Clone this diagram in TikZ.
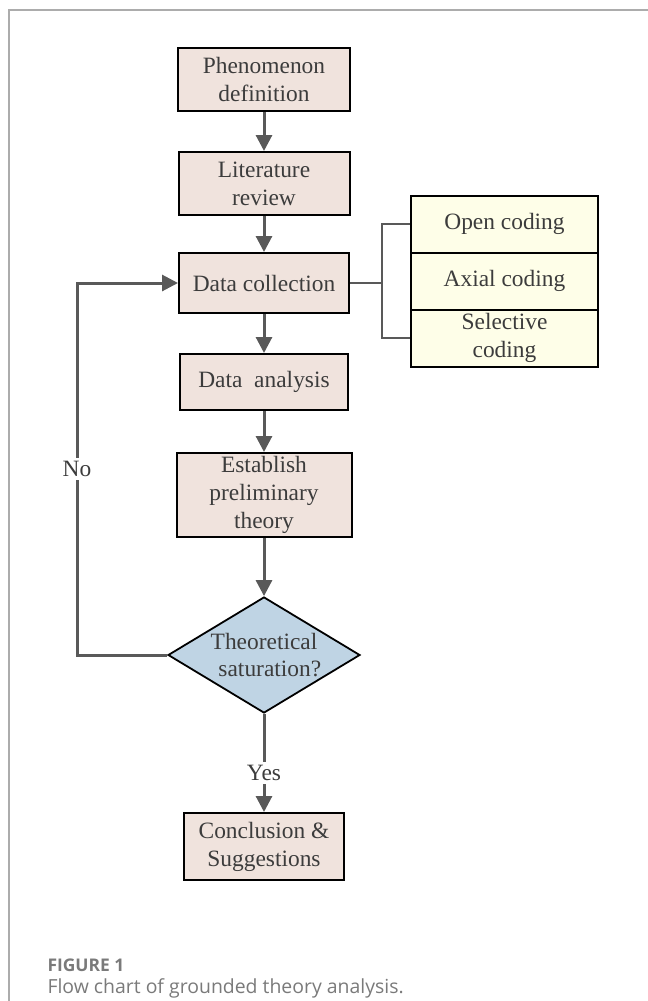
\documentclass[tikz,border=0pt]{standalone}
\usepackage{fontspec}
\setmainfont{Liberation Serif}
\newfontfamily\capfont{Open Sans}
\usetikzlibrary{shapes.geometric,arrows.meta}
\definecolor{boxfill}{HTML}{F0E3DD}
\definecolor{codefill}{HTML}{FEFEE8}
\definecolor{decfill}{HTML}{BFD4E4}
\definecolor{arrowc}{HTML}{595959}
\definecolor{txt}{HTML}{3C3C3C}
\definecolor{capgray}{HTML}{7A7A7A}
\begin{document}
\begin{tikzpicture}[x=1bp,y=-1bp,
 every node/.style={font=\fontsize{23.5}{28}\selectfont, text=txt},
 procbox/.style={draw=black, line width=2bp, fill=boxfill, align=center, inner sep=0pt},
 codebox/.style={draw=black, line width=2bp, fill=codefill, align=center, inner sep=0pt, minimum width=187bp, minimum height=57bp},
 flow/.style={draw=arrowc, line width=3bp, -{Triangle[length=16bp,width=16bp]}},
 link/.style={draw=arrowc, line width=2bp},
]
\useasboundingbox (0,0) rectangle (648,1001);
\draw[gray!65, line width=1.5bp] (9,1001) -- (9,10) -- (648,10);

\node[procbox, minimum width=172bp, minimum height=63bp] (phen) at (264,79.5) {Phenomenon\\definition};
\node[procbox, minimum width=171bp, minimum height=63bp] (lit) at (264,183.5) {Literature\\review};
\node[procbox, minimum width=170bp, minimum height=60bp] (coll) at (264,283) {Data collection};
\node[procbox, minimum width=168bp, minimum height=56bp] (anal) at (264,382) {Data\ \ analysis};
\node[procbox, minimum width=175bp, minimum height=84bp] (est) at (264,495) {Establish\\preliminary\\theory};
\node[diamond, draw=black, line width=1.8bp, fill=decfill, minimum width=192bp, minimum height=116bp, inner sep=0pt, aspect=1.655] (dec) at (264,655) {};
\node[align=center] (dectext) at (dec.center) {Theoretical\\\ \ saturation?};
\node[procbox, minimum width=160bp, minimum height=67bp] (conc) at (264,846.5) {Conclusion \&\\Suggestions};

\node[codebox] (open) at (504.5,224) {Open coding};
\node[codebox] (axial) at (504.5,281) {Axial coding};
\node[codebox] (sel) at (504.5,338) {Selective\\coding};

\draw[flow] (phen) -- (lit);
\draw[flow] (lit) -- (coll);
\draw[flow] (coll) -- (anal);
\draw[flow] (anal) -- (est);
\draw[flow] (est) -- (dec);
\draw[flow] (dec) -- node[pos=0.6, fill=white, inner sep=3bp] (yes) {Yes} (conc);

\coordinate (lb) at (77,655);
\coordinate (lt) at (77,283);
\draw[flow] (dec.west) -- (lb) -- node[midway, fill=white, inner sep=3bp] (no) {No} (lt) -- (coll.west);

\coordinate (bj) at (382,283);
\draw[link] (coll.east) -- (bj);
\draw[link] (open.west) -| (bj) |- (sel.west);

\node[anchor=base west, font=\capfont\bfseries\fontsize{17.5}{19}\selectfont, text=capgray] (figlab) at (44,971) {FIGURE 1};
\node[anchor=base west, font=\capfont\fontsize{19.5}{22}\selectfont, text=capgray] (figcap) at (44,993) {Flow chart of grounded theory analysis.};
\end{tikzpicture}
\end{document}
